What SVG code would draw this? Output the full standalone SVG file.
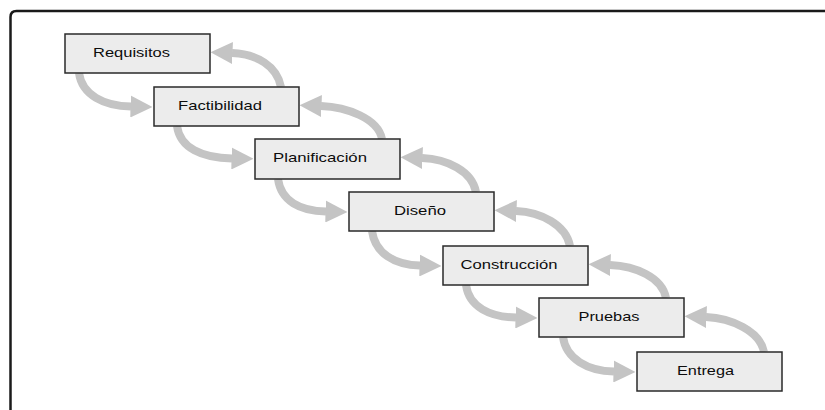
<svg xmlns="http://www.w3.org/2000/svg" width="825" height="410" viewBox="0 0 825 410">
<style>
.box{fill:#ececec;stroke:#2a2a2a;stroke-width:1.5}
.lbl{font-family:"Liberation Sans",Arial,sans-serif;font-size:13.5px;fill:#0d0d0d}
.arr{fill:none;stroke:#c4c4c4;stroke-width:8;marker-end:url(#ah)}
</style>
<defs>
<marker id="ah" markerUnits="userSpaceOnUse" viewBox="0 0 22 22" markerWidth="22" markerHeight="22" refX="0.5" refY="11" orient="auto">
<path d="M0,0 L22,11 L0,22 z" fill="#c4c4c4"/>
</marker>
</defs>
<rect width="825" height="410" fill="#ffffff"/>
<path d="M10.5,410 V17 Q10.5,11 16.5,11 H825" fill="none" stroke="#1a1a1a" stroke-width="2.5"/>
<g id="connectors">
<path class="arr" d="M79,73 C82,95 104,106 131,106.5"/>
<path class="arr" d="M177,126 C180,148 202,158 232,158.5"/>
<path class="arr" d="M278,179 C281,201 300,211 326,211.5"/>
<path class="arr" d="M372,231 C375,253 394,265 420,265.5"/>
<path class="arr" d="M466,285 C469,307 490,317 516,317.5"/>
<path class="arr" d="M563,337 C566,359 588,371 614,371.5"/>
<path class="arr" d="M281,87 C277,66 257,54 232,53"/>
<path class="arr" d="M382,139 C378,118 346,107 321,106"/>
<path class="arr" d="M476,192 C472,171 447,159 422,158"/>
<path class="arr" d="M570,246 C566,225 541,212 516,211"/>
<path class="arr" d="M666,298 C662,277 635,266 610,265"/>
<path class="arr" d="M764,352 C760,331 731,318 706,317"/>
</g>
<g id="requisitos"><rect class="box" x="65" y="34" width="145" height="39"/><text class="lbl" x="93" y="57" textLength="77" lengthAdjust="spacingAndGlyphs">Requisitos</text></g>
<g id="factibilidad"><rect class="box" x="154" y="87" width="145" height="39"/><text class="lbl" x="178" y="110" textLength="84" lengthAdjust="spacingAndGlyphs">Factibilidad</text></g>
<g id="planificacion"><rect class="box" x="255" y="139" width="145" height="40"/><text class="lbl" x="273" y="162" textLength="94" lengthAdjust="spacingAndGlyphs">Planificación</text></g>
<g id="diseno"><rect class="box" x="349" y="192" width="145" height="39"/><text class="lbl" x="394" y="215" textLength="52" lengthAdjust="spacingAndGlyphs">Diseño</text></g>
<g id="construccion"><rect class="box" x="443" y="246" width="145" height="39"/><text class="lbl" x="460.5" y="269" textLength="97" lengthAdjust="spacingAndGlyphs">Construcción</text></g>
<g id="pruebas"><rect class="box" x="539" y="298" width="145" height="39"/><text class="lbl" x="578.5" y="321" textLength="61" lengthAdjust="spacingAndGlyphs">Pruebas</text></g>
<g id="entrega"><rect class="box" x="637" y="352" width="145" height="39"/><text class="lbl" x="677" y="375" textLength="57" lengthAdjust="spacingAndGlyphs">Entrega</text></g>
</svg>
